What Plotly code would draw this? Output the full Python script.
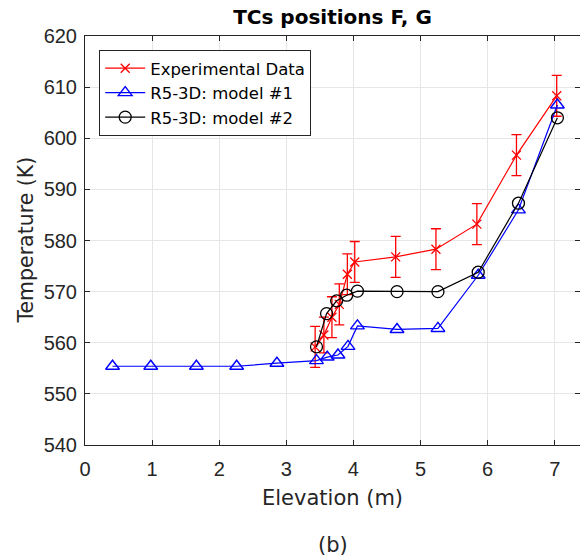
import plotly.graph_objects as go

# Experimental data
exp_x = [3.43, 3.56, 3.68, 3.79, 3.91, 4.02, 4.63, 5.23, 5.84, 6.43, 7.03]
exp_y = [559.2, 561.5, 565.0, 567.5, 573.4, 575.8, 576.8, 578.3, 583.2, 596.7, 608.3]
exp_err = [4.0, 3.5, 4.0, 4.0, 4.0, 4.0, 4.0, 4.0, 4.0, 4.0, 4.0]

# R5-3D model #1
m1_x = [0.41, 0.98, 1.66, 2.26, 2.86, 3.45, 3.61, 3.77, 3.92, 4.06, 4.65, 5.26, 5.86, 6.46, 7.04]
m1_y = [555.4, 555.4, 555.4, 555.4, 556.0, 556.5, 557.2, 557.6, 559.3, 563.3, 562.6, 562.8, 573.2, 586.0, 606.5]

# R5-3D model #2
m2_x = [3.45, 3.60, 3.75, 3.90, 4.06, 4.65, 5.26, 5.86, 6.46, 7.04]
m2_y = [559.2, 565.7, 568.2, 569.3, 570.1, 570.0, 570.0, 573.8, 587.3, 604.0]

x_ticks = [0, 1, 2, 3, 4, 5, 6, 7]
y_ticks = [540, 550, 560, 570, 580, 590, 600, 610, 620]

FONT = "Liberation Sans, Arial, sans-serif"
WIDE = "DejaVu Sans, Liberation Sans, sans-serif"
TXT = "#262626"

fig = go.Figure()
fig.add_trace(go.Scatter(
    x=exp_x, y=exp_y, mode="lines+markers", name="Experimental Data",
    line=dict(color="#ff0000", width=1.2),
    marker=dict(symbol="x-thin", size=9, line=dict(color="#ff0000", width=1.3), color="#ff0000"),
    error_y=dict(type="data", array=exp_err, visible=True, color="#ff0000", thickness=1.3, width=5),
))
fig.add_trace(go.Scatter(
    x=m1_x, y=m1_y, mode="lines+markers", name="R5-3D: model #1",
    line=dict(color="#0000ff", width=1.2),
    marker=dict(symbol="triangle-up-open", size=12, color="#0000ff", line=dict(width=1.4)),
))
fig.add_trace(go.Scatter(
    x=m2_x, y=m2_y, mode="lines+markers", name="R5-3D: model #2",
    line=dict(color="#000000", width=1.2),
    marker=dict(symbol="circle-open", size=12, color="#000000", line=dict(width=1.3)),
))

fig.update_layout(
    width=580, height=560,
    margin=dict(l=85, r=0, t=36, b=115),
    paper_bgcolor="white", plot_bgcolor="white",
    font=dict(family=FONT, size=18, color=TXT),
    title=dict(text="<b>TCs positions F, G</b>", x=0.5, xref="paper", xanchor="center",
               y=0.969, yanchor="middle",
               font=dict(size=20, color="#000000", family=WIDE)),
    showlegend=True,
    legend=dict(x=0.0287, y=0.9658, xanchor="left", yanchor="top",
                bgcolor="white", bordercolor=TXT, borderwidth=1,
                font=dict(size=16.5, color="#000000", family=WIDE), tracegroupgap=0,
                itemwidth=40),
    annotations=[
        dict(text="Elevation (m)", x=0.5, y=-0.1296, xref="paper", yref="paper",
             xanchor="center", yanchor="middle", showarrow=False,
             font=dict(size=21, color=TXT, family=WIDE)),
        dict(text="Temperature (K)", x=-0.121, y=0.5, xref="paper", yref="paper",
             xanchor="center", yanchor="middle", textangle=-90, showarrow=False,
             font=dict(size=20.5, color=TXT, family=WIDE)),
        dict(text="(b)", x=0.5, y=-0.2445, xref="paper", yref="paper",
             xanchor="center", yanchor="middle", showarrow=False,
             font=dict(size=21, color=TXT, family=WIDE)),
    ],
)
fig.update_xaxes(
    range=[0, 7.377], tickvals=x_ticks, ticktext=[str(v) for v in x_ticks],
    showgrid=True, gridcolor="#e6e6e6", gridwidth=1,
    showline=True, linecolor=TXT, linewidth=1, mirror="allticks",
    ticks="inside", ticklen=5, tickcolor=TXT, ticklabelstandoff=6,
    tickfont=dict(size=20), zeroline=False,
)
fig.update_yaxes(
    range=[540, 620], tickvals=y_ticks, ticktext=[str(v) for v in y_ticks],
    showgrid=True, gridcolor="#e6e6e6", gridwidth=1,
    showline=True, linecolor=TXT, linewidth=1, mirror="allticks",
    ticks="inside", ticklen=5, tickcolor=TXT, ticklabelstandoff=3,
    tickfont=dict(size=20), zeroline=False,
)

fig.write_html("out.html")
